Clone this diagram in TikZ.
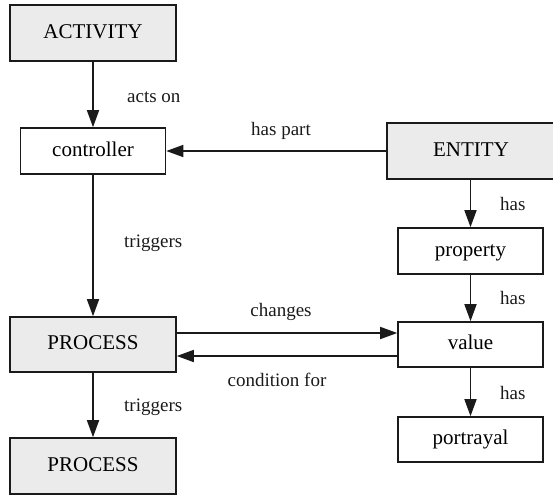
\documentclass[tikz,border=0pt]{standalone}
\usepackage{fontspec}
\setmainfont{Liberation Serif}
\usetikzlibrary{arrows.meta}
\definecolor{boxgray}{HTML}{EBEBEB}
\definecolor{ink}{HTML}{1A1A1A}
\begin{document}
\begin{tikzpicture}[x=1pt,y=-1pt,
  concept/.style={draw=ink, line width=1.6pt, fill=boxgray, minimum width=166pt,
    minimum height=56pt, inner sep=0pt, font=\fontsize{21}{25}\selectfont,
    text height=14pt, text depth=4pt},
  plainbox/.style={draw=ink, line width=1.6pt, fill=white, minimum width=145pt,
    minimum height=46pt, inner sep=0pt, font=\fontsize{21}{25}\selectfont,
    text height=14pt, text depth=4pt},
  link/.style={draw=ink, line width=1.6pt, -{Triangle[length=17pt,width=12pt]}},
  lbl/.style={inner sep=0pt, font=\fontsize{19}{23}\selectfont, text=ink}]
\useasboundingbox (0,0) rectangle (553,496);

% boxes
\node[concept] (act) at (93,33) {ACTIVITY};
\node[plainbox] (ctrl) at (93,151) {controller};
\node[concept, minimum width=168pt] (ent) at (471,151) {ENTITY};
\node[plainbox] (prop) at (470.5,251) {property};
\node[plainbox, minimum height=45pt] (val) at (470.5,344.5) {value};
\node[plainbox, minimum height=45pt] (port) at (470.5,439.5) {portrayal};
\node[concept, minimum height=55pt] (proc) at (93,344.5) {PROCESS};
\node[concept] (proc2) at (93,466) {PROCESS};

% connectors
\draw[link] (act) -- (ctrl);
\draw[link] (ent) -- (ctrl);
\draw[link] (ctrl) -- (proc);
\draw[link] (proc) -- (proc2);
\draw[link] (ent.south -| prop.north) -- (prop);
\draw[link] (prop) -- (val);
\draw[link] (val) -- (port);
\draw[link] ([yshift=11.5pt]proc.east) -- ([yshift=11.5pt]val.west);
\draw[link] ([yshift=-11.5pt]val.west) -- ([yshift=-11.5pt]proc.east);

% connector labels
\node[lbl, anchor=west] (lacts) at (127,97) {acts on};
\node[lbl] (lpart) at (281,131) {has part};
\node[lbl, anchor=west] (ltrig) at (124,243) {triggers};
\node[lbl, anchor=west] (ltrig2) at (124,407) {triggers};
\node[lbl, anchor=west] (lhas1) at (500,204) {has};
\node[lbl, anchor=west] (lhas2) at (500,298) {has};
\node[lbl, anchor=west] (lhas3) at (500,393) {has};
\node[lbl] (lchg) at (281,312) {changes};
\node[lbl] (lcond) at (277,380) {condition for};
\end{tikzpicture}
\end{document}
